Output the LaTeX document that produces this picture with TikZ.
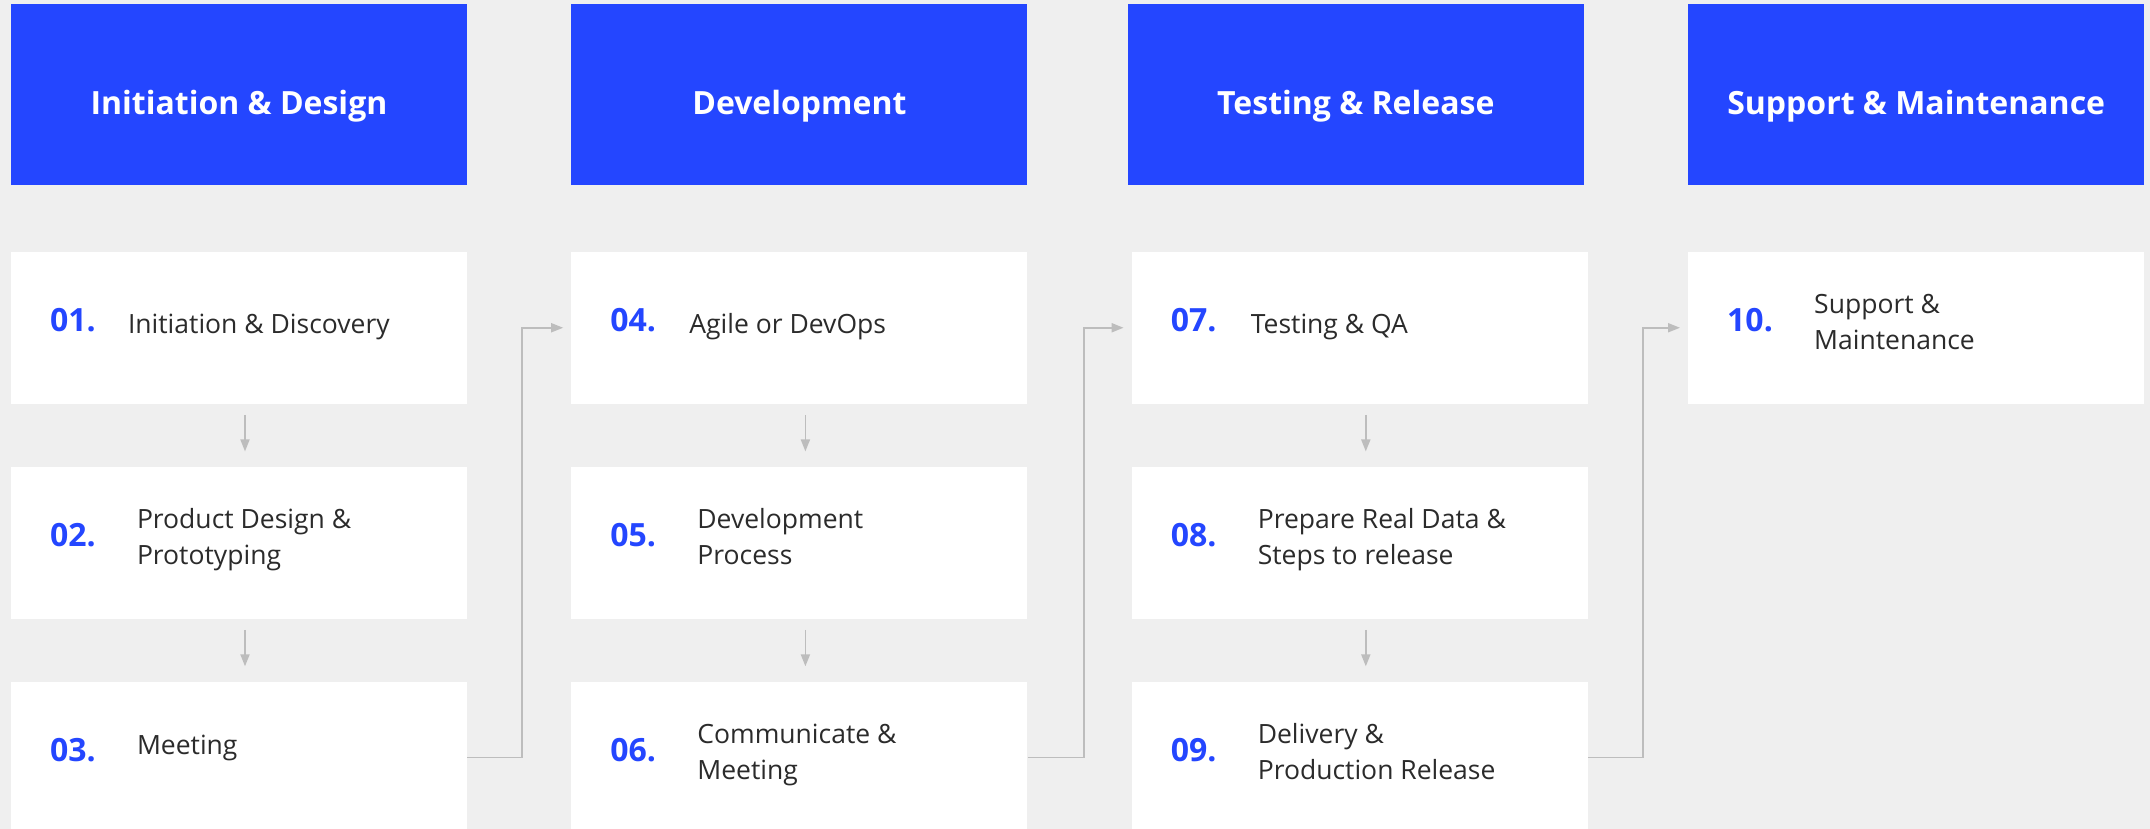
\documentclass[tikz,border=0pt]{standalone}
\usepackage{fontspec}
\setmainfont{Open Sans}
\usepackage{xcolor}
\usepackage{tikz}
\usetikzlibrary{positioning,arrows.meta}

\definecolor{phaseblue}{HTML}{2446FF}
\definecolor{pagebg}{HTML}{EFEFEF}
\definecolor{linkgray}{HTML}{BDBDBD}
\definecolor{inkdark}{HTML}{2B2B2B}

\begin{document}
\begin{tikzpicture}[
    phase/.style={rectangle, fill=phaseblue, minimum width=456pt, minimum height=181pt, inner sep=0pt, text=white, font=\fontsize{32}{36}\selectfont\bfseries, text height=49pt, text depth=10pt},
    stepbox/.style={rectangle, fill=white, minimum width=456pt, minimum height=152pt, inner sep=0pt},
    num/.style={anchor=base west, inner sep=0pt, text=phaseblue, font=\fontsize{32}{36}\selectfont\bfseries},
    txt/.style={anchor=base west, inner sep=0pt, align=left, text=inkdark, font=\fontsize{26.5}{36}\selectfont},
    link/.style={draw=linkgray, line width=1.8pt, -{Triangle[length=12pt,width=9pt]}}
]
    \fill[pagebg] (0,0) rectangle (2150pt,-829pt);
    \useasboundingbox (0,0) rectangle (2150pt,-829pt);

    % step boxes
    \node (b01) [stepbox] at (239pt,-327.75pt) {};
    \node (b02) [stepbox, below=62.5pt of b01] {};
    \node (b03) [stepbox, below=62.5pt of b02] {};
    \node (b04) [stepbox, right=104pt of b01] {};
    \node (b05) [stepbox, below=62.5pt of b04] {};
    \node (b06) [stepbox, below=62.5pt of b05] {};
    \node (b07) [stepbox, right=104pt of b04] {};
    \node (b08) [stepbox, below=62.5pt of b07] {};
    \node (b09) [stepbox, below=62.5pt of b08] {};
    \node (b10) [stepbox, right=100pt of b07] {};

    % phase headers
    \node (h1) [phase, above=66pt of b01] {Initiation \& Design};
    \node (h2) [phase, above=66pt of b04] {Development};
    \node (h3) [phase, above=66pt of b07, xshift=-4pt] {Testing \& Release};
    \node (h4) [phase, above=66pt of b10] {Support \& Maintenance};

    % numbers and texts
    \node (n01) [num] at ([xshift=39pt,yshift=-4pt]b01.west) {01.};
    \node (t01) [txt] at ([xshift=117pt,yshift=-6pt]b01.west) {Initiation \& Discovery};
    \node (n02) [num] at ([xshift=39pt,yshift=-4pt]b02.west) {02.};
    \node (t02) [txt] at ([xshift=126pt,yshift=-22pt]b02.west) {Product Design \&\\Prototyping};
    \node (n03) [num] at ([xshift=39pt,yshift=-4pt]b03.west) {03.};
    \node (t03) [txt] at ([xshift=126pt,yshift=3pt]b03.west) {Meeting};

    \node (n04) [num] at ([xshift=39pt,yshift=-4pt]b04.west) {04.};
    \node (t04) [txt] at ([xshift=118pt,yshift=-6pt]b04.west) {Agile or DevOps};
    \node (n05) [num] at ([xshift=39pt,yshift=-4pt]b05.west) {05.};
    \node (t05) [txt] at ([xshift=126pt,yshift=-22pt]b05.west) {Development\\Process};
    \node (n06) [num] at ([xshift=39pt,yshift=-4pt]b06.west) {06.};
    \node (t06) [txt] at ([xshift=126pt,yshift=-22pt]b06.west) {Communicate \&\\Meeting};

    \node (n07) [num] at ([xshift=39pt,yshift=-4pt]b07.west) {07.};
    \node (t07) [txt] at ([xshift=119pt,yshift=-6pt]b07.west) {Testing \& QA};
    \node (n08) [num] at ([xshift=39pt,yshift=-4pt]b08.west) {08.};
    \node (t08) [txt] at ([xshift=126pt,yshift=-22pt]b08.west) {Prepare Real Data \&\\Steps to release};
    \node (n09) [num] at ([xshift=39pt,yshift=-4pt]b09.west) {09.};
    \node (t09) [txt] at ([xshift=126pt,yshift=-22pt]b09.west) {Delivery \&\\Production Release};

    \node (n10) [num] at ([xshift=39pt,yshift=-4pt]b10.west) {10.};
    \node (t10) [txt] at ([xshift=126pt,yshift=-22pt]b10.west) {Support \&\\Maintenance};

    % arrows down each column
    \draw [link, shorten <=11pt, shorten >=15pt] ([xshift=6pt]b01.south) -- ([xshift=6pt]b02.north);
    \draw [link, shorten <=11pt, shorten >=15pt] ([xshift=6pt]b02.south) -- ([xshift=6pt]b03.north);
    \draw [link, shorten <=11pt, shorten >=15pt] ([xshift=6pt]b04.south) -- ([xshift=6pt]b05.north);
    \draw [link, shorten <=11pt, shorten >=15pt] ([xshift=6pt]b05.south) -- ([xshift=6pt]b06.north);
    \draw [link, shorten <=11pt, shorten >=15pt] ([xshift=6pt]b07.south) -- ([xshift=6pt]b08.north);
    \draw [link, shorten <=11pt, shorten >=15pt] ([xshift=6pt]b08.south) -- ([xshift=6pt]b09.north);

    % elbows to the next column
    \draw [link, shorten >=8pt] (b03.east) -- ++(55pt,0) |- (b04.west);
    \draw [link, shorten >=8pt] (b06.east) -- ++(56pt,0) |- (b07.west);
    \draw [link, shorten >=8pt] (b09.east) -- ++(55pt,0) |- (b10.west);
\end{tikzpicture}
\end{document}
